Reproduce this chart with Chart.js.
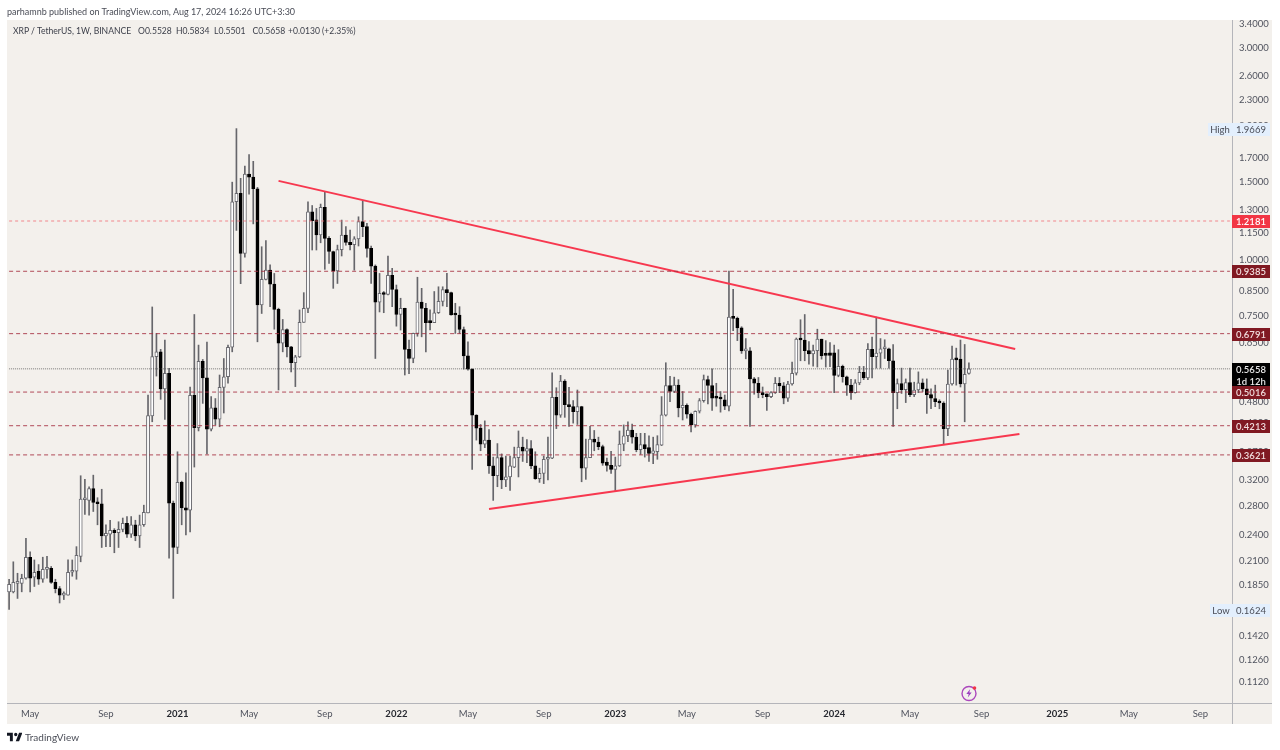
<!DOCTYPE html>
<html>
<head>
<meta charset="utf-8">
<title>XRP / TetherUS weekly</title>
<script src="https://cdn.jsdelivr.net/npm/chart.js@4"></script>
<style>
html,body{margin:0;padding:0;background:#fff;}
#wrap{position:relative;width:1280px;height:750px;overflow:hidden;font-family:Lato,sans-serif;}
canvas{position:absolute;left:0;top:0;}
.t{position:absolute;white-space:pre;color:#3c3f4a;}
.t span{display:inline-block;}
</style>
</head>
<body>
<div id="wrap">
<canvas id="c" width="1280" height="750"></canvas>
<div class="t" style="left:7px;top:5px;font-size:9px;line-height:13px;color:#4a4d57;">parhamnb published on TradingView.com, Aug 17, 2024 16:26 UTC+3:30</div>
<div class="t" style="left:13px;top:25px;font-size:8.6px;line-height:13px;color:#3c3f4a;"><span style="width:125px">XRP / TetherUS, 1W, BINANCE</span><span style="width:38px">O0.5528</span><span style="width:38px">H0.5834</span><span style="width:38.5px">L0.5501</span><span style="width:35.5px">C0.5658</span><span style="width:34px">+0.0130</span><span>(+2.35%)</span></div>
<svg style="position:absolute;left:7px;top:732px" width="15" height="10" viewBox="0 0 36 24"><path fill="#131722" d="M14 2H0v7h7v13h7V2zm15 20h-8l8-20h8l-8 20zm-8-12a4 4 0 1 0 0-8 4 4 0 0 0 0 8z"/></svg>
<div class="t" style="left:25px;top:730px;font-size:10px;line-height:14px;color:#4a4d57;">TradingView</div>
<svg style="position:absolute;left:960px;top:684px" width="19" height="19" viewBox="0 0 19 19"><circle cx="9" cy="9.5" r="7" fill="none" stroke="#ab47bc" stroke-width="1.4"/><path fill="#9c3fc0" d="M10.2 5 6.3 10.1h2.4l-.9 3.4 3.9-5.1H9.3z"/><circle cx="14.5" cy="4" r="1.8" fill="#f23645"/></svg>
</div>
<script>
const opens = [
.178,.178,.186,.186,.191,.213,.192,.198,.19,.2,
.201,.187,.181,.175,.175,.197,.198,.214,.287,.286,
.304,.283,.281,.238,.24,.245,.242,.246,.254,.24,
.252,.238,.252,.268,.443,.603,.618,.51,.553,.282,
.224,.314,.275,.272,.493,.417,.588,.54,.414,.462,
.436,.514,.543,.633,1.346,1.406,1.03,1.554,1.53,1.44,
.788,.9,.944,.878,.77,.646,.694,.634,.584,.602,
.72,.774,1.278,1.225,1.133,1.307,1.113,1.04,.94,1.05,
1.133,1.09,1.078,1.11,1.214,1.183,1.057,.964,.80,.837,
.832,.919,.854,.75,.774,.626,.597,.68,.80,.774,
.722,.719,.757,.803,.854,.84,.75,.748,.694,.605,
.565,.445,.416,.383,.391,.342,.325,.357,.318,.323,
.34,.357,.377,.369,.374,.342,.32,.329,.354,.356,
.488,.445,.531,.47,.465,.453,.465,.338,.357,.393,
.387,.378,.349,.343,.336,.342,.383,.4,.412,.397,
.372,.382,.376,.365,.368,.381,.445,.519,.503,.52,
.462,.468,.447,.423,.454,.48,.535,.519,.488,.488,
.482,.466,.74,.735,.70,.621,.621,.537,.525,.5,
.497,.49,.5,.525,.518,.486,.523,.553,.66,.657,
.622,.611,.622,.66,.61,.615,.615,.547,.573,.543,
.52,.5,.526,.556,.54,.626,.603,.614,.628,.628,
.59,.5,.524,.508,.527,.495,.507,.526,.51,.495,
.485,.477,.474,.415,.523,.595,.595,.523,.5528];
const highs = [
.19,.208,.196,.195,.235,.219,.21,.205,.213,.214,
.203,.19,.183,.178,.21,.21,.225,.325,.319,.307,
.326,.29,.303,.252,.258,.247,.256,.261,.263,.263,
.258,.265,.279,.494,.78,.68,.626,.657,.567,.285,
.368,.316,.33,.515,.75,.64,.594,.65,.49,.485,
.548,.597,.64,1.49,1.9669,1.52,1.62,1.72,1.66,1.45,
1.066,1.10,.97,.928,.775,.731,.696,.636,.607,.768,
.84,1.346,1.32,1.30,1.33,1.418,1.123,1.042,1.075,1.224,
1.183,1.162,1.123,1.245,1.353,1.203,1.07,.97,.928,.845,
1.015,.953,.874,.816,.775,.657,.681,.91,.859,.795,
.768,.845,.866,.866,.928,.842,.795,.781,.703,.651,
.566,.446,.424,.432,.413,.358,.384,.364,.36,.36,
.377,.41,.397,.392,.39,.368,.338,.36,.397,.554,
.513,.547,.535,.514,.48,.507,.466,.393,.42,.411,
.397,.381,.356,.369,.358,.41,.423,.43,.425,.405,
.405,.405,.40,.397,.40,.49,.584,.544,.542,.535,
.503,.472,.45,.455,.485,.548,.545,.566,.525,.503,
.494,.94,.855,.74,.704,.662,.632,.541,.541,.515,
.497,.503,.541,.541,.527,.53,.586,.664,.73,.75,
.652,.64,.695,.66,.655,.648,.64,.625,.577,.545,
.536,.535,.573,.573,.645,.667,.74,.662,.658,.63,
.642,.537,.568,.537,.568,.528,.557,.537,.537,.51,
.52,.482,.477,.562,.637,.63,.657,.642,.5834];
const lows = [
.1624,.177,.172,.178,.19,.178,.183,.185,.187,.191,
.186,.177,.168,.171,.175,.193,.19,.208,.266,.265,
.27,.252,.224,.225,.225,.218,.224,.243,.236,.236,
.232,.224,.25,.268,.43,.545,.483,.435,.212,.172,
.217,.252,.239,.243,.34,.41,.473,.364,.41,.423,
.419,.45,.525,.618,1.16,.88,1.01,1.40,1.2,.651,
.754,.897,.781,.695,.507,.618,.602,.557,.516,.60,
.72,.757,1.048,1.048,1.088,.948,.978,.859,.881,1.016,
1.075,1.048,.944,1.07,1.123,1.01,.881,.597,.76,.757,
.83,.781,.706,.692,.548,.552,.584,.67,.668,.618,
.692,.719,.754,.784,.781,.747,.68,.68,.565,.562,
.336,.391,.37,.376,.329,.286,.307,.304,.307,.301,
.339,.323,.35,.348,.337,.319,.314,.312,.318,.355,
.415,.44,.44,.42,.427,.424,.315,.319,.357,.37,
.372,.343,.333,.329,.30,.341,.37,.388,.385,.368,
.363,.358,.35,.346,.354,.38,.443,.477,.50,.441,
.434,.438,.408,.418,.45,.476,.472,.456,.466,.452,
.458,.455,.69,.655,.613,.596,.42,.496,.487,.487,
.456,.487,.498,.5,.472,.478,.52,.548,.59,.59,
.58,.574,.571,.595,.571,.572,.5,.543,.528,.493,
.483,.499,.521,.535,.535,.54,.568,.568,.597,.568,
.42,.46,.498,.475,.49,.49,.5,.503,.449,.46,
.465,.46,.382,.40,.52,.52,.515,.43,.5501];
const closes = [
.185,.187,.187,.191,.213,.191,.197,.19,.2,.202,
.187,.181,.175,.176,.197,.199,.215,.288,.288,.304,
.283,.281,.238,.241,.245,.242,.246,.254,.24,.252,
.238,.252,.269,.444,.603,.618,.51,.553,.282,.224,
.314,.275,.272,.493,.417,.588,.54,.414,.462,.436,
.514,.543,.633,1.346,1.406,1.03,1.554,1.53,1.44,.788,
.9,.944,.878,.77,.646,.694,.634,.584,.602,.72,
.774,1.278,1.22,1.133,1.307,1.113,1.04,.94,1.05,1.133,
1.09,1.078,1.11,1.214,1.183,1.057,.964,.80,.837,.832,
.919,.854,.75,.774,.626,.597,.68,.80,.774,.719,
.719,.757,.803,.854,.84,.748,.748,.694,.605,.565,
.445,.416,.383,.391,.342,.325,.357,.318,.323,.342,
.357,.377,.369,.374,.342,.32,.329,.354,.356,.488,
.445,.531,.47,.465,.453,.465,.338,.357,.393,.387,
.378,.347,.343,.336,.342,.383,.4,.412,.397,.372,
.382,.374,.365,.37,.382,.446,.519,.503,.52,.462,
.468,.447,.423,.454,.48,.535,.519,.486,.486,.484,
.466,.74,.735,.70,.621,.623,.537,.525,.5,.495,
.49,.5,.525,.518,.486,.523,.553,.66,.657,.622,
.611,.622,.66,.606,.607,.607,.547,.573,.543,.52,
.5,.526,.556,.54,.626,.603,.614,.628,.63,.59,
.5,.524,.508,.527,.495,.507,.526,.51,.495,.486,
.477,.474,.415,.523,.595,.593,.523,.55,.5658];

const yTicks = [3.4,3.0,2.6,2.3,2.0,1.7,1.5,1.3,1.15,1.0,.85,.75,.65,.55,.48,.43,.37,.32,.28,.24,.21,.185,.162,.142,.126,.112];
const levels = [0.9385,0.6791,0.5016,0.4213,0.3621];
const thinLevel = 1.2181;
const lastPrice = 0.5658;
const countdown = "1d 12h";
const highValue = 1.9669, lowValue = 0.1624;
const trendUpper = [[64,1.5],[239,0.627]];
const trendLower = [[114,0.2735],[240,0.4035]];
const firstWeek = Date.UTC(2020,2,30);
const slotCount = 291;

const labels = [];
for (let i = 0; i < slotCount; i++) labels.push(new Date(firstWeek + i*7*864e5).toISOString().slice(0,10));

const FONT = 'Lato, sans-serif';
const hline = (v, color, dash, w) => ({
  type:'line', order:0, data:[{x:labels[0],y:v},{x:labels[slotCount-1],y:v}],
  borderColor:color, borderDash:dash, borderWidth:w||1, pointRadius:0, fill:false, tension:0
});
const trend = (pts) => ({
  type:'line', order:0, data:pts.map(p=>({x:labels[p[0]],y:p[1]})),
  borderColor:'#f7384f', borderWidth:2, pointRadius:0, fill:false, tension:0
});

const panelPlugin = {
  id:'panel',
  beforeDraw(ch){
    const c = ch.ctx;
    c.save();
    c.fillStyle = '#ffffff'; c.fillRect(0,0,1280,750);
    c.fillStyle = '#f3f0ec'; c.fillRect(7,20,1265,704);
    c.fillStyle = '#b4b5ba'; c.fillRect(1232,20,1,704); c.fillRect(7,703,1265,1);
    c.restore();
  },
  afterDatasetsDraw(ch){
    const c = ch.ctx, y = ch.scales.y, R = 1232, W = 38;
    const box = (v,text,bg,fg) => {
      const py = Math.round(y.getPixelForValue(v));
      c.fillStyle = bg; c.fillRect(R,py-6,W,13);
      c.fillStyle = fg; c.font = '600 9.5px '+FONT; c.textAlign='center'; c.textBaseline='middle';
      c.fillText(text,R+W/2,py+0.5);
    };
    c.save();
    const hl = (v,name) => {
      const py = Math.round(y.getPixelForValue(v));
      const nw = name==='High'?24:22;
      c.fillStyle = '#e3effd'; c.fillRect(R-nw,py-6,nw,13); c.fillRect(R,py-6,W,13);
      c.fillStyle = '#4a4d57'; c.font = '9.5px '+FONT; c.textAlign='center'; c.textBaseline='middle';
      c.fillText(name,R-nw/2,py+0.5); c.fillText(v.toFixed(4),R+W/2,py+0.5);
    };
    hl(highValue,'High'); hl(lowValue,'Low');
    const py = Math.round(y.getPixelForValue(lastPrice));
    c.fillStyle='#000'; c.fillRect(R,py-6,W,24);
    c.fillStyle='#e8e8e8'; c.font='600 9.5px '+FONT; c.textAlign='center'; c.textBaseline='middle';
    c.fillText(lastPrice.toFixed(4),R+W/2,py+0.5); c.fillText(countdown,R+W/2,py+12.5);
    box(thinLevel,thinLevel.toFixed(4),'#f23645','#ffffff');
    levels.forEach(v=>box(v,v.toFixed(4),'#801922','#f0dcdc'));
    c.restore();
  }
};

new Chart(document.getElementById('c'), {
  data:{
    labels,
    datasets:[
      {type:'bar',order:3,grouped:false,data:lows.map((l,i)=>[l,highs[i]]),backgroundColor:'#66666b',barThickness:1,borderWidth:0},
      {type:'bar',order:2,grouped:false,data:opens.map((o,i)=>[Math.min(o,closes[i]),Math.max(o,closes[i])]),
        backgroundColor:opens.map((o,i)=>closes[i]>=o?'#ffffff':'#000000'),
        borderColor:opens.map((o,i)=>closes[i]>=o?'#6a6a70':'#000000'),
        borderWidth:1,borderSkipped:false,barThickness:3.2,minBarLength:2},
      hline(thinLevel,'rgba(242,100,110,0.75)',[3,3]),
      ...levels.map(v=>hline(v,'rgba(165,45,62,0.85)',[4,3])),
      hline(lastPrice,'rgba(70,70,70,0.7)',[1,1]),
      trend(trendUpper),
      trend(trendLower)
    ]
  },
  options:{
    responsive:false, animation:false,
    layout:{padding:{left:7,top:21,right:8,bottom:26}},
    plugins:{legend:{display:false},title:{display:false},tooltip:{enabled:false}},
    scales:{
      x:{type:'category',offset:true,grid:{display:false,drawTicks:false},border:{display:false},
        afterFit(s){s.height=21;},
        ticks:{autoSkip:false,maxRotation:0,minRotation:0,padding:5,labelOffset:0,
          color:ctx=>/^\d{4}$/.test(ctx.tick.label)?'#26282f':'#50535e',
          font:ctx=>({family:FONT,size:9.5,weight:/^\d{4}$/.test(ctx.tick.label)?'700':'400'}),
          callback(v){
            const d=new Date(this.getLabelForValue(v)),m=d.getUTCMonth();
            if(d.getUTCDate()>7) return '';
            if(m===0) return String(d.getUTCFullYear());
            if(m===4) return 'May';
            if(m===8) return 'Sep';
            return '';
          }}},
      y:{type:'logarithmic',position:'right',min:0.1,max:3.437,grid:{display:false,drawTicks:false},border:{display:false},
        afterFit(s){s.width=40;},
        afterBuildTicks(s){s.ticks=yTicks.map(v=>({value:v}));},
        ticks:{autoSkip:false,padding:7,labelOffset:1,color:'#50535e',font:{family:FONT,size:9.5},callback:v=>Number(v).toFixed(4)}}
    }
  },
  plugins:[panelPlugin]
});
</script>
</body>
</html>
